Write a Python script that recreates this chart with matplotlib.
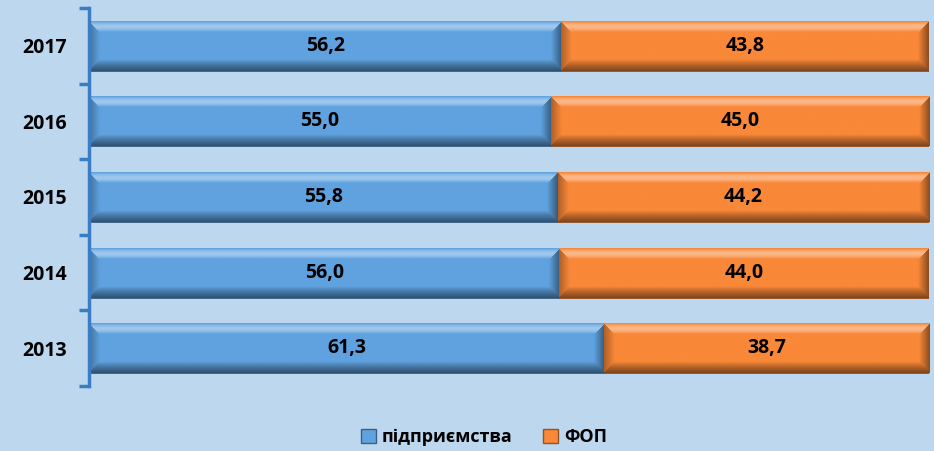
import matplotlib
matplotlib.use("Agg")
import matplotlib.pyplot as plt
import numpy as np
from matplotlib.patches import Patch

years = ["2013", "2014", "2015", "2016", "2017"]
enterprises = [61.3, 56.0, 55.8, 55.0, 56.2]
fop = [38.7, 44.0, 44.2, 45.0, 43.8]
series_names = ["підприємства", "ФОП"]

bg = "#BDD7EE"
blue = "#5FA2DF"
orange = "#F98838"

plt.rcParams['font.family'] = ['Open Sans', 'DejaVu Sans']

fig = plt.figure(figsize=(9.34, 4.51), dpi=100, facecolor=bg)
ax = fig.add_axes([0.0953, 0.1441, 0.8995, 0.8382])
ax.set_facecolor(bg)

y = np.arange(len(years))
h = 0.66
AX_W_PX = 0.8995 * 934
AX_H_PX = 0.8382 * 451

def shade(color, f):
    c = np.array(matplotlib.colors.to_rgb(color))
    if f >= 0:
        return c + (1 - c) * f
    return c * (1 + f)

def bevel_image(color, w, hh):
    nx = max(int(w / 100 * AX_W_PX), 2)
    ny = max(int(hh / len(years) * AX_H_PX), 2)
    X, Y = np.meshgrid(np.arange(nx) + 0.5, np.arange(ny) + 0.5)  # Y from bottom
    b = 11.0
    dl, dr, db, dt = X, nx - X, Y, ny - Y
    D = np.stack([dt, db, dl, dr])
    face = np.argmin(D, axis=0)
    d = np.min(D, axis=0)
    t = np.clip(d / b, 0, 1)
    f = np.zeros_like(d)
    inb = d < b
    top = inb & (face == 0)
    bot = inb & (face == 1)
    lef = inb & (face == 2)
    rig = inb & (face == 3)
    f[top] = -0.05 + 0.45 * np.sin(np.pi * t[top])
    f[bot] = -0.5 * (1 - t[bot]) ** 0.8
    f[lef] = -0.3 * (1 - t[lef])
    f[rig] = -0.45 * (1 - t[rig])
    base = np.array(matplotlib.colors.to_rgb(color))
    img = np.where(f[..., None] >= 0,
                   base + (1 - base) * f[..., None],
                   base * (1 + f[..., None]))
    return np.clip(img, 0, 1)

def draw_bars(left, widths, color):
    bars = ax.barh(y, widths, left=left, height=h, color=color,
                   edgecolor=shade(color, -0.45), linewidth=0.6, zorder=2)
    for b in bars:
        x0, y0 = b.get_x(), b.get_y()
        w, hh = b.get_width(), b.get_height()
        img = bevel_image(color, w, hh)
        im = ax.imshow(img, extent=[x0, x0 + w, y0, y0 + hh], origin='lower',
                       aspect='auto', interpolation='bilinear', zorder=2.5)
        im.set_clip_path(b)
    return bars

b1 = draw_bars([0] * len(years), enterprises, blue)
b2 = draw_bars(enterprises, fop, orange)

for bars, vals in ((b1, enterprises), (b2, fop)):
    for b, v in zip(bars, vals):
        ax.text(b.get_x() + b.get_width() / 2, b.get_y() + b.get_height() / 2,
                f"{v:.1f}".replace(".", ","), ha='center', va='center',
                fontsize=14, fontweight='bold', color='black', zorder=4)

ax.set_xlim(0, 100)
ax.set_ylim(-0.5, len(years) - 0.5)
ax.set_yticks(y)
ax.set_yticklabels(years, fontsize=14, fontweight='bold')
ax.tick_params(axis='y', which='major', length=0, pad=16)
ax.set_yticks(np.arange(-0.5, len(years), 1), minor=True)
ax.tick_params(axis='y', which='minor', length=7, width=2.5, color='#3B7DC4')
ax.set_xticks([])
for s in ['top', 'right', 'bottom']:
    ax.spines[s].set_visible(False)
ax.spines['left'].set_color('#3B7DC4')
ax.spines['left'].set_linewidth(2.5)

handles = [Patch(facecolor=blue, edgecolor=shade(blue, -0.4)),
           Patch(facecolor=orange, edgecolor=shade(orange, -0.4))]
leg = fig.legend(handles, series_names, loc='center', bbox_to_anchor=(0.518, 0.03),
                 ncol=2, frameon=False, handlelength=0.85, handleheight=0.85,
                 handletextpad=0.3, columnspacing=1.7,
                 prop={'weight': 'bold', 'size': 13})

fig.savefig("out.png", dpi=100, facecolor=bg)
